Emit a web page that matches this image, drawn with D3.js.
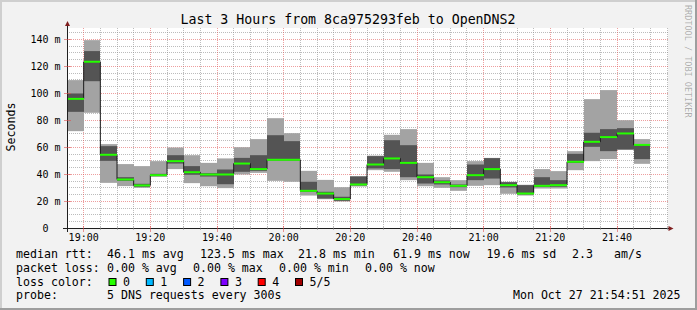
<!DOCTYPE html>
<html>
<head>
<meta charset="utf-8">
<script src="https://cdn.jsdelivr.net/npm/d3@7"></script>
<style>
  html, body { margin: 0; padding: 0; background: #f2f2f2; }
  svg { display: block; font-family: "DejaVu Sans Mono", monospace; }
  text { white-space: pre; }
</style>
</head>
<body>
<svg width="697" height="310"></svg>
<script>
// one smoke bar per 5 minute slot (start time)
const slots = [
  "18:55", "19:00", "19:05", "19:10", "19:15", "19:20", "19:25",
  "19:30", "19:35", "19:40", "19:45", "19:50", "19:55", "20:00",
  "20:05", "20:10", "20:15", "20:20", "20:25", "20:30", "20:35",
  "20:40", "20:45", "20:50", "20:55", "21:00", "21:05", "21:10",
  "21:15", "21:20", "21:25", "21:30", "21:35", "21:40", "21:45",
];

// 5 pings per slot, sorted: min, 2nd, median, 4th, max (ms)
const pingMin = [
  72.1, 85.7, 33.8, 31.4, 30.1, 38.3, 44.0, 33.6, 31.3, 29.9, 40.0, 41.2,
  35.3, 34.6, 24.4, 21.7, 20.0, 31.1, 43.2, 42.0, 35.8, 31.3, 30.1, 27.9,
  31.6, 32.1, 25.7, 24.4, 29.6, 29.6, 43.2, 49.9, 51.4, 58.3, 47.9,
];
const pingLow = [
  86.4, 109.1, 50.1, 35.3, 30.9, 38.8, 48.1, 39.8, 38.5, 32.8, 42.0, 42.7,
  50.4, 50.4, 27.2, 22.2, 20.5, 31.9, 44.5, 44.0, 38.0, 33.3, 32.6, 30.6,
  35.8, 37.0, 30.4, 25.2, 30.9, 30.9, 48.6, 60.5, 57.3, 58.5, 51.4,
];
const pingMedian = [
  96.0, 123.5, 54.6, 36.3, 31.9, 39.5, 49.9, 41.7, 40.0, 40.0, 48.1, 44.0,
  50.9, 50.9, 27.9, 25.9, 21.8, 32.6, 47.4, 51.9, 48.6, 38.0, 34.3, 31.6,
  39.5, 44.0, 32.1, 25.9, 31.6, 32.1, 49.4, 64.2, 67.7, 70.4, 61.9,
];
const pingHigh = [
  100.0, 131.4, 61.0, 38.0, 33.1, 40.5, 54.3, 46.2, 41.0, 43.7, 52.3, 54.3,
  69.1, 64.7, 34.6, 27.2, 23.5, 38.5, 53.6, 65.4, 61.7, 40.0, 35.6, 32.6,
  47.4, 52.1, 34.3, 32.1, 38.0, 35.8, 55.3, 70.9, 73.6, 74.3, 62.2,
];
const pingMax = [
  109.9, 139.5, 62.5, 47.7, 46.2, 49.9, 60.0, 54.3, 48.6, 51.9, 60.2, 66.2,
  81.7, 70.6, 42.7, 36.0, 30.6, 38.8, 54.0, 69.4, 73.6, 48.6, 38.0, 35.8,
  49.9, 52.3, 34.6, 32.4, 44.0, 42.5, 57.3, 95.8, 102.5, 80.2, 66.2,
];
const lossCount = [
  0, 0, 0, 0, 0, 0, 0, 0, 0, 0, 0, 0, 0, 0, 0, 0, 0, 0,
  0, 0, 0, 0, 0, 0, 0, 0, 0, 0, 0, 0, 0, 0, 0, 0, 0,
];

const lossLabels = ["0", "1", "2", "3", "4", "5/5"];
const lossColors = ["#26ff00", "#00b8ff", "#0059ff", "#7e00ff", "#ff0000", "#a10000"];

const title = "Last 3 Hours from 8ca975293feb to OpenDNS2";
const rttStats = ["46.1 ms avg", "123.5 ms max", "21.8 ms min", "61.9 ms now", "19.6 ms sd", "2.3", "am/s"];
const lossStats = ["0.00 % avg", "0.00 % max", "0.00 % min", "0.00 % now"];
const probeText = "5 DNS requests every 300s";
const stamp = "Mon Oct 27 21:54:51 2025";

const day = "2025-10-27 ";
const parse = d3.timeParse("%Y-%m-%d %H:%M");
const windowStart = parse(day + "18:55");
const windowEnd = parse(day + "21:55");

const svg = d3.select("svg");
const W = 697, H = 310;

const x = d3.scaleTime().domain([windowStart, windowEnd]).range([67, 667]);
const y = d3.scaleLinear().domain([0, 148.5]).range([228.5, 28]);
const crisp = v => Math.floor(v) + 0.5;

// background + 3d frame
svg.append("rect").attr("width", W).attr("height", H).attr("fill", "#f2f2f2");
svg.append("path").attr("d", `M0,0H${W}V2H2V${H}H0Z`).attr("fill", "#cfcfcf");
svg.append("path").attr("d", `M${W},${H}H0V${H - 2}H${W - 2}V0H${W}Z`).attr("fill", "#9e9e9e");

// canvas
svg.append("rect")
  .attr("x", 67).attr("y", 28)
  .attr("width", 601).attr("height", 200.5)
  .attr("fill", "#ffffff");

// grid, rrdtool style (under the smoke)
const minorTimes = d3.timeMinute.every(5).range(windowStart, d3.timeMinute.offset(windowEnd, 1))
  .filter(t => t > windowStart && t.getMinutes() % 20 !== 0);
const majorTimes = x.ticks(d3.timeMinute.every(20));
const minorVals = d3.range(5, 149, 5).filter(v => v % 20 !== 0);
const majorVals = d3.range(20, 149, 20);

const grid = svg.append("g")
  .attr("stroke-width", 1)
  .attr("stroke-dasharray", "1,1")
  .attr("shape-rendering", "crispEdges");

grid.selectAll(".hmin").data(minorVals).join("line")
  .attr("x1", 67).attr("x2", 668)
  .attr("y1", d => crisp(y(d))).attr("y2", d => crisp(y(d)))
  .attr("stroke", "rgba(143,143,143,0.6)");
grid.selectAll(".vmin").data(minorTimes).join("line")
  .attr("x1", d => crisp(x(d))).attr("x2", d => crisp(x(d)))
  .attr("y1", 28).attr("y2", 228)
  .attr("stroke", "rgba(143,143,143,0.6)");
grid.selectAll(".hmaj").data(majorVals).join("line")
  .attr("x1", 67).attr("x2", 668)
  .attr("y1", d => crisp(y(d))).attr("y2", d => crisp(y(d)))
  .attr("stroke", "rgba(222,79,79,0.55)");
grid.selectAll(".vmaj").data(majorTimes).join("line")
  .attr("x1", d => crisp(x(d))).attr("x2", d => crisp(x(d)))
  .attr("y1", 28).attr("y2", 228)
  .attr("stroke", "rgba(222,79,79,0.55)");

const bars = slots.map((s, i) => {
  const t0 = parse(day + s);
  return {
    t0,
    t1: d3.timeMinute.offset(t0, 5),
    min: pingMin[i],
    low: pingLow[i],
    median: pingMedian[i],
    high: pingHigh[i],
    max: pingMax[i],
    loss: lossCount[i],
  };
});

const bx0 = d => Math.round(x(d.t0));
const bx1 = d => Math.round(x(d.t1));

// outer smoke (min..max)
svg.append("g").selectAll("rect")
  .data(bars)
  .join("rect")
  .attr("x", bx0)
  .attr("width", d => bx1(d) - bx0(d))
  .attr("y", d => y(d.max))
  .attr("height", d => y(d.min) - y(d.max))
  .attr("fill", "#a3a3a3");

// inner smoke (2nd..4th)
svg.append("g").selectAll("rect")
  .data(bars)
  .join("rect")
  .attr("x", bx0)
  .attr("width", d => bx1(d) - bx0(d))
  .attr("y", d => y(d.high))
  .attr("height", d => y(d.low) - y(d.high))
  .attr("fill", "#545454");

// median step line + loss coloured median
const stepPoints = bars.map(d => [x(d.t0), y(d.median)]);
const last = bars[bars.length - 1];
stepPoints.push([x(last.t1), y(last.median)]);

svg.append("path")
  .attr("d", d3.line().curve(d3.curveStepAfter)(stepPoints))
  .attr("fill", "none")
  .attr("stroke", "#1a1a1a")
  .attr("stroke-width", 1);

svg.append("g").selectAll("line")
  .data(bars)
  .join("line")
  .attr("x1", bx0)
  .attr("x2", bx1)
  .attr("y1", d => y(d.median))
  .attr("y2", d => y(d.median))
  .attr("stroke", d => lossColors[d.loss])
  .attr("stroke-width", 2);

// axes
const axisColor = "#1f1f1f";
const arrowColor = "#801f1f";
svg.append("line")
  .attr("x1", 63).attr("x2", 669).attr("y1", 228.5).attr("y2", 228.5)
  .attr("stroke", axisColor);
svg.append("line")
  .attr("x1", 67.5).attr("x2", 67.5).attr("y1", 232).attr("y2", 26)
  .attr("stroke", axisColor);
svg.append("path").attr("d", "M668.5,226L673.5,228.5L668.5,231Z").attr("fill", arrowColor);
svg.append("path").attr("d", "M65,26L67.5,21L70,26Z").attr("fill", arrowColor);

// axis ticks
const ticks = svg.append("g").attr("shape-rendering", "crispEdges");
ticks.selectAll(".ty").data(majorVals.concat([0])).join("line")
  .attr("x1", 64).attr("x2", 71)
  .attr("y1", d => crisp(y(d))).attr("y2", d => crisp(y(d)))
  .attr("stroke", d => d === 0 ? axisColor : "rgba(222,79,79,0.6)");
ticks.selectAll(".tx").data(majorTimes).join("line")
  .attr("x1", d => crisp(x(d))).attr("x2", d => crisp(x(d)))
  .attr("y1", 226).attr("y2", 232)
  .attr("stroke", "rgba(222,79,79,0.6)");
ticks.selectAll(".txm").data(minorTimes).join("line")
  .attr("x1", d => crisp(x(d))).attr("x2", d => crisp(x(d)))
  .attr("y1", 227).attr("y2", 230)
  .attr("stroke", "rgba(143,143,143,0.6)");

// tick labels
const fmt = d3.timeFormat("%H:%M");
svg.append("g").selectAll("text")
  .data(majorTimes)
  .join("text")
  .attr("x", d => x(d))
  .attr("y", 241)
  .attr("text-anchor", "middle")
  .attr("font-size", 10)
  .text(fmt);

svg.append("g").selectAll("text")
  .data([0].concat(majorVals))
  .join("text")
  .attr("x", 60.5)
  .attr("y", d => y(d) + 3.6)
  .attr("text-anchor", "end")
  .attr("font-size", 10)
  .text(d => d === 0 ? "0  " : `${d} m`);

// title, vertical labels
svg.append("text")
  .attr("x", 348).attr("y", 24)
  .attr("text-anchor", "middle")
  .attr("font-size", 13.25)
  .text(title);

svg.append("text")
  .attr("transform", "translate(15,127) rotate(-90)")
  .attr("text-anchor", "middle")
  .attr("font-size", 11.6)
  .text("Seconds");

svg.append("text")
  .attr("transform", "translate(684.5,5) rotate(90)")
  .attr("font-size", 8.5)
  .attr("fill", "rgba(0,0,0,0.3)")
  .text("RRDTOOL / TOBI OETIKER");

// legend
const legend = svg.append("g").attr("font-size", 11.6);
const row = [258.3, 271.8, 285.5, 299];

legend.append("text").attr("x", 16).attr("y", row[0]).text("median rtt:");
const rttX = [107, 200, 298, 393, 486.5, 572, 614];
legend.selectAll(".rtt").data(rttStats).join("text")
  .attr("x", (d, i) => rttX[i]).attr("y", row[0]).text(d => d);

legend.append("text").attr("x", 16).attr("y", row[1]).text("packet loss:");
const lossX = [107, 193, 279, 365];
legend.selectAll(".loss").data(lossStats).join("text")
  .attr("x", (d, i) => lossX[i]).attr("y", row[1]).text(d => d);

legend.append("text").attr("x", 16).attr("y", row[2]).text("loss color:");
const swatch = legend.selectAll(".sw").data(lossLabels).join("g")
  .attr("transform", (d, i) => `translate(${109 + i * 37.3},0)`);
swatch.append("rect")
  .attr("x", 0).attr("y", 278.5)
  .attr("width", 7).attr("height", 7)
  .attr("fill", (d, i) => lossColors[i])
  .attr("stroke", "#000");
swatch.append("text")
  .attr("x", 14).attr("y", row[2])
  .text(d => d);

legend.append("text").attr("x", 16).attr("y", row[3]).text("probe:");
legend.append("text").attr("x", 107).attr("y", row[3]).text(probeText);
legend.append("text").attr("x", 680.5).attr("y", row[3]).attr("text-anchor", "end").text(stamp);
</script>
</body>
</html>
